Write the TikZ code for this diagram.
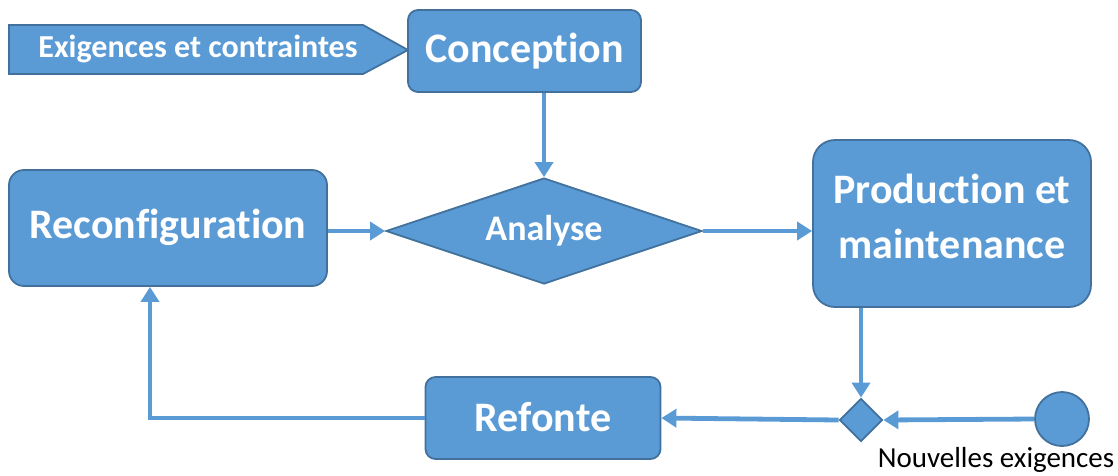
\documentclass[tikz,border=0pt]{standalone}
\usepackage{fontspec}
\setmainfont{Carlito}[Ligatures=NoCommon]
\usetikzlibrary{shapes.geometric,arrows.meta,calc}
\definecolor{boxfill}{HTML}{5B9BD5}
\definecolor{boxedge}{HTML}{41719C}
\tikzset{
  base/.style={fill=boxfill, draw=boxedge, line width=1.8pt, text=white, font=\bfseries\fontsize{42}{55}\selectfont, align=center, inner sep=0pt},
  stepbox/.style={base, rectangle},
  decision/.style={base, diamond, inner sep=0pt},
  flow/.style={draw=boxfill, line width=4.8pt, -{Triangle[length=15pt, width=18pt]}},
}
\newcommand{\lift}[2]{\raisebox{#1pt}{#2}}
\begin{document}
\begin{tikzpicture}[x=1pt, y=-1pt]
\useasboundingbox (0,0) rectangle (1118,475);

% input pentagon
\coordinate (exigtip) at (408,50);
\filldraw[fill=boxfill, draw=boxedge, line width=1.8pt]
  (9,25) -- (363,25) -- (exigtip) -- (363,74) -- (9,74) -- cycle;
\node[text=white, font=\bfseries\fontsize{32}{36}\selectfont] (exig) at (198,48.5) {Exigences et contraintes};

% process boxes
\node[stepbox, rounded corners=10pt, minimum width=233pt, minimum height=82pt] (conc) at (524.5,51) {\lift{2}{Conception}};
\node[decision, minimum width=316pt, minimum height=106pt, aspect=2.98,
      font=\bfseries\fontsize{36}{42}\selectfont] (ana) at (544,231) {Analyse};
\node[stepbox, rounded corners=15pt, minimum width=318pt, minimum height=116pt] (reconf) at (168,228) {\lift{8}{Reconfiguration}};
\node[stepbox, rounded corners=22pt, minimum width=278pt, minimum height=167pt] (prod) at (952,223.5) {};
\node[text=white, font=\bfseries\fontsize{42}{55}\selectfont, align=center, inner sep=0pt] (prodtxt) at (952,216) {Production et\\maintenance};
\node[stepbox, rounded corners=10pt, minimum width=235pt, minimum height=82pt] (ref) at (543,418) {\lift{3}{Refonte}};

% merge point and external start
\node[decision, minimum width=43pt, minimum height=43pt] (merge) at (861,420) {};
\node[base, circle, minimum size=54pt] (start) at (1062,419) {};
\node[font=\fontsize{29}{34}\selectfont] (newreq) at (996,460) {Nouvelles exigences};

% connectors
\draw[flow] (ana.north |- conc.south) -- (ana.north);
\draw[flow] (ana.west -| reconf.east) -- (ana.west);
\draw[flow] (ana.east) -- (ana.east -| prod.west);
\draw[flow] (merge.north |- prod.south) -- (merge.north);
\draw[flow] (start.west) -- (merge.east);
\draw[flow] (merge.west) -- (ref.east);
\draw[flow] (ref.west) -| ([xshift=-18pt]reconf.south);
\end{tikzpicture}
\end{document}
